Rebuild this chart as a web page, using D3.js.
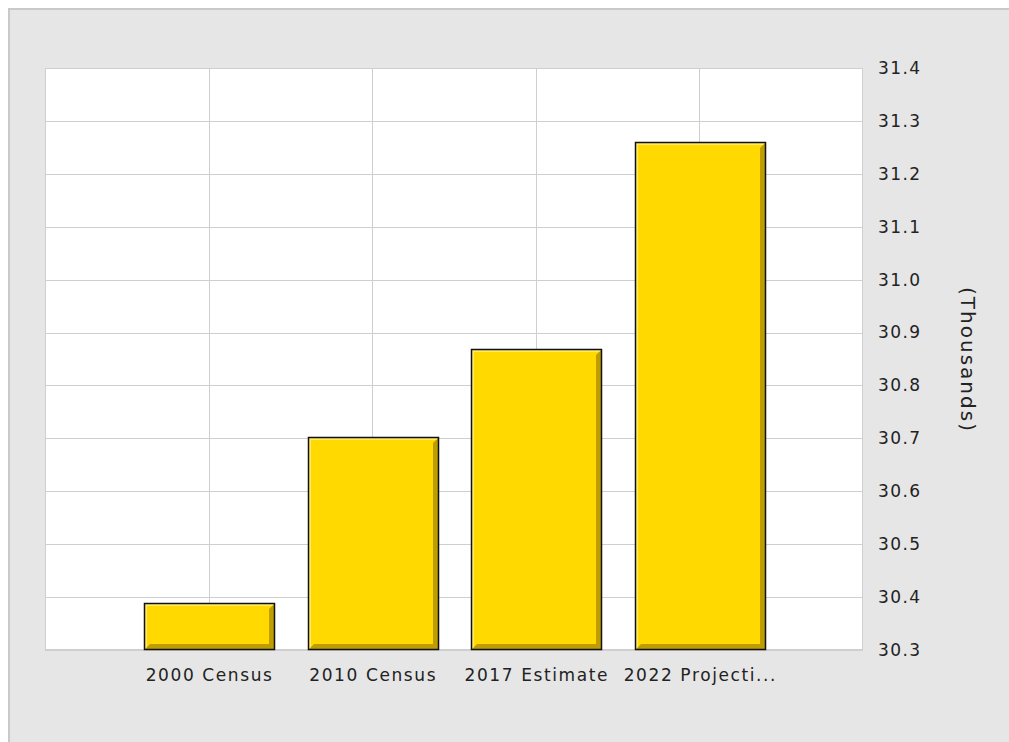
<!DOCTYPE html>
<html>
<head>
<meta charset="utf-8">
<script src="https://cdn.jsdelivr.net/npm/d3@7"></script>
<style>
  body { margin: 0; background: #fff; }
  text { font-family: "DejaVu Sans", sans-serif; fill: #222; }
</style>
</head>
<body>
<div id="chart"></div>
<script>
const categories = ["2000 Census", "2010 Census", "2017 Estimate", "2022 Projecti..."];
const values = [30.389, 30.703, 30.869, 31.26];
const yTicks = [30.3, 30.4, 30.5, 30.6, 30.7, 30.8, 30.9, 31.0, 31.1, 31.2, 31.3, 31.4];
const axisTitle = "(Thousands)";

const width = 1009;
const height = 742;
const plot = { left: 45, top: 68, right: 863, bottom: 650 };

const svg = d3.select("#chart")
    .append("svg")
    .attr("width", width)
    .attr("height", height);

// outer grey panel
svg.append("rect")
    .attr("x", 9).attr("y", 9)
    .attr("width", width).attr("height", height)
    .attr("fill", "#e6e6e6")
    .attr("stroke", "#c9c9c9")
    .attr("stroke-width", 2);

svg.append("rect")
    .attr("x", plot.left).attr("y", plot.top)
    .attr("width", plot.right - plot.left).attr("height", plot.bottom - plot.top)
    .attr("fill", "#fff");

// categories sit on slot edges 1..4 of 5 slots
const x = d3.scaleLinear()
    .domain([0, categories.length + 1])
    .range([plot.left, plot.right]);

const y = d3.scaleLinear()
    .domain([30.3, 31.4])
    .range([plot.bottom, plot.top]);

const slot = x(1) - x(0);
const barW = Math.round(slot * 0.8);

// grid
svg.append("g").selectAll("line")
    .data(yTicks)
    .enter().append("line")
    .attr("x1", plot.left).attr("x2", plot.right)
    .attr("y1", d => Math.round(y(d)) + 0.5).attr("y2", d => Math.round(y(d)) + 0.5)
    .attr("stroke", "#cfcfcf");

svg.append("g").selectAll("line")
    .data(categories)
    .enter().append("line")
    .attr("x1", (d, i) => Math.round(x(i + 1)) + 0.5).attr("x2", (d, i) => Math.round(x(i + 1)) + 0.5)
    .attr("y1", plot.top).attr("y2", plot.bottom)
    .attr("stroke", "#cfcfcf");

svg.append("rect")
    .attr("x", plot.left + 0.5).attr("y", plot.top + 0.5)
    .attr("width", plot.right - plot.left - 1).attr("height", plot.bottom - plot.top - 1)
    .attr("fill", "none")
    .attr("stroke", "#cfcfcf");

// bars with bevel
const bars = svg.append("g").selectAll("g")
    .data(values)
    .enter().append("g")
    .attr("transform", (d, i) => `translate(${Math.round(x(i + 1) - barW / 2) + 1},${Math.round(y(d))})`);

bars.append("rect")
    .attr("width", barW)
    .attr("height", d => plot.bottom - Math.round(y(d)))
    .attr("fill", "#ffd900");

bars.append("path")
    .attr("d", d => {
        const w = barW, h = plot.bottom - Math.round(y(d)), b = 6;
        return `M${w},0 L${w},${h} L0,${h} L${b},${h - b} L${w - b},${h - b} L${w - b},${b} Z`;
    })
    .attr("fill", "#bd9d00");

bars.append("path")
    .attr("d", d => {
        const w = barW, h = plot.bottom - Math.round(y(d)), b = 3;
        return `M0,0 L${w},0 L${w - b},${b} L${b},${b} L${b},${h - b} L0,${h} Z`;
    })
    .attr("fill", "#ffe966");

bars.append("rect")
    .attr("x", 0.5).attr("y", 0.5)
    .attr("width", barW - 1)
    .attr("height", d => plot.bottom - Math.round(y(d)) - 1)
    .attr("fill", "none")
    .attr("stroke", "#111")
    .attr("stroke-width", 1.5);

// y axis on the right
const yAxis = svg.append("g")
    .attr("transform", `translate(${plot.right},0)`)
    .call(d3.axisRight(y).tickValues(yTicks).tickFormat(d3.format(".1f")).tickSize(0).tickPadding(15));
yAxis.select(".domain").remove();
yAxis.selectAll("text")
    .style("font-size", "17px")
    .style("letter-spacing", "1.4px")
    .attr("fill", "#222");

// x labels
svg.append("g").selectAll("text")
    .data(categories)
    .enter().append("text")
    .attr("x", (d, i) => x(i + 1) + 1)
    .attr("y", 681)
    .attr("text-anchor", "middle")
    .style("font-size", "17px")
    .style("letter-spacing", "1.6px")
    .text(d => d);

svg.append("text")
    .attr("transform", `translate(961,360) rotate(90)`)
    .attr("text-anchor", "middle")
    .style("font-size", "20px")
    .style("letter-spacing", "2px")
    .text(axisTitle);
</script>
</body>
</html>
